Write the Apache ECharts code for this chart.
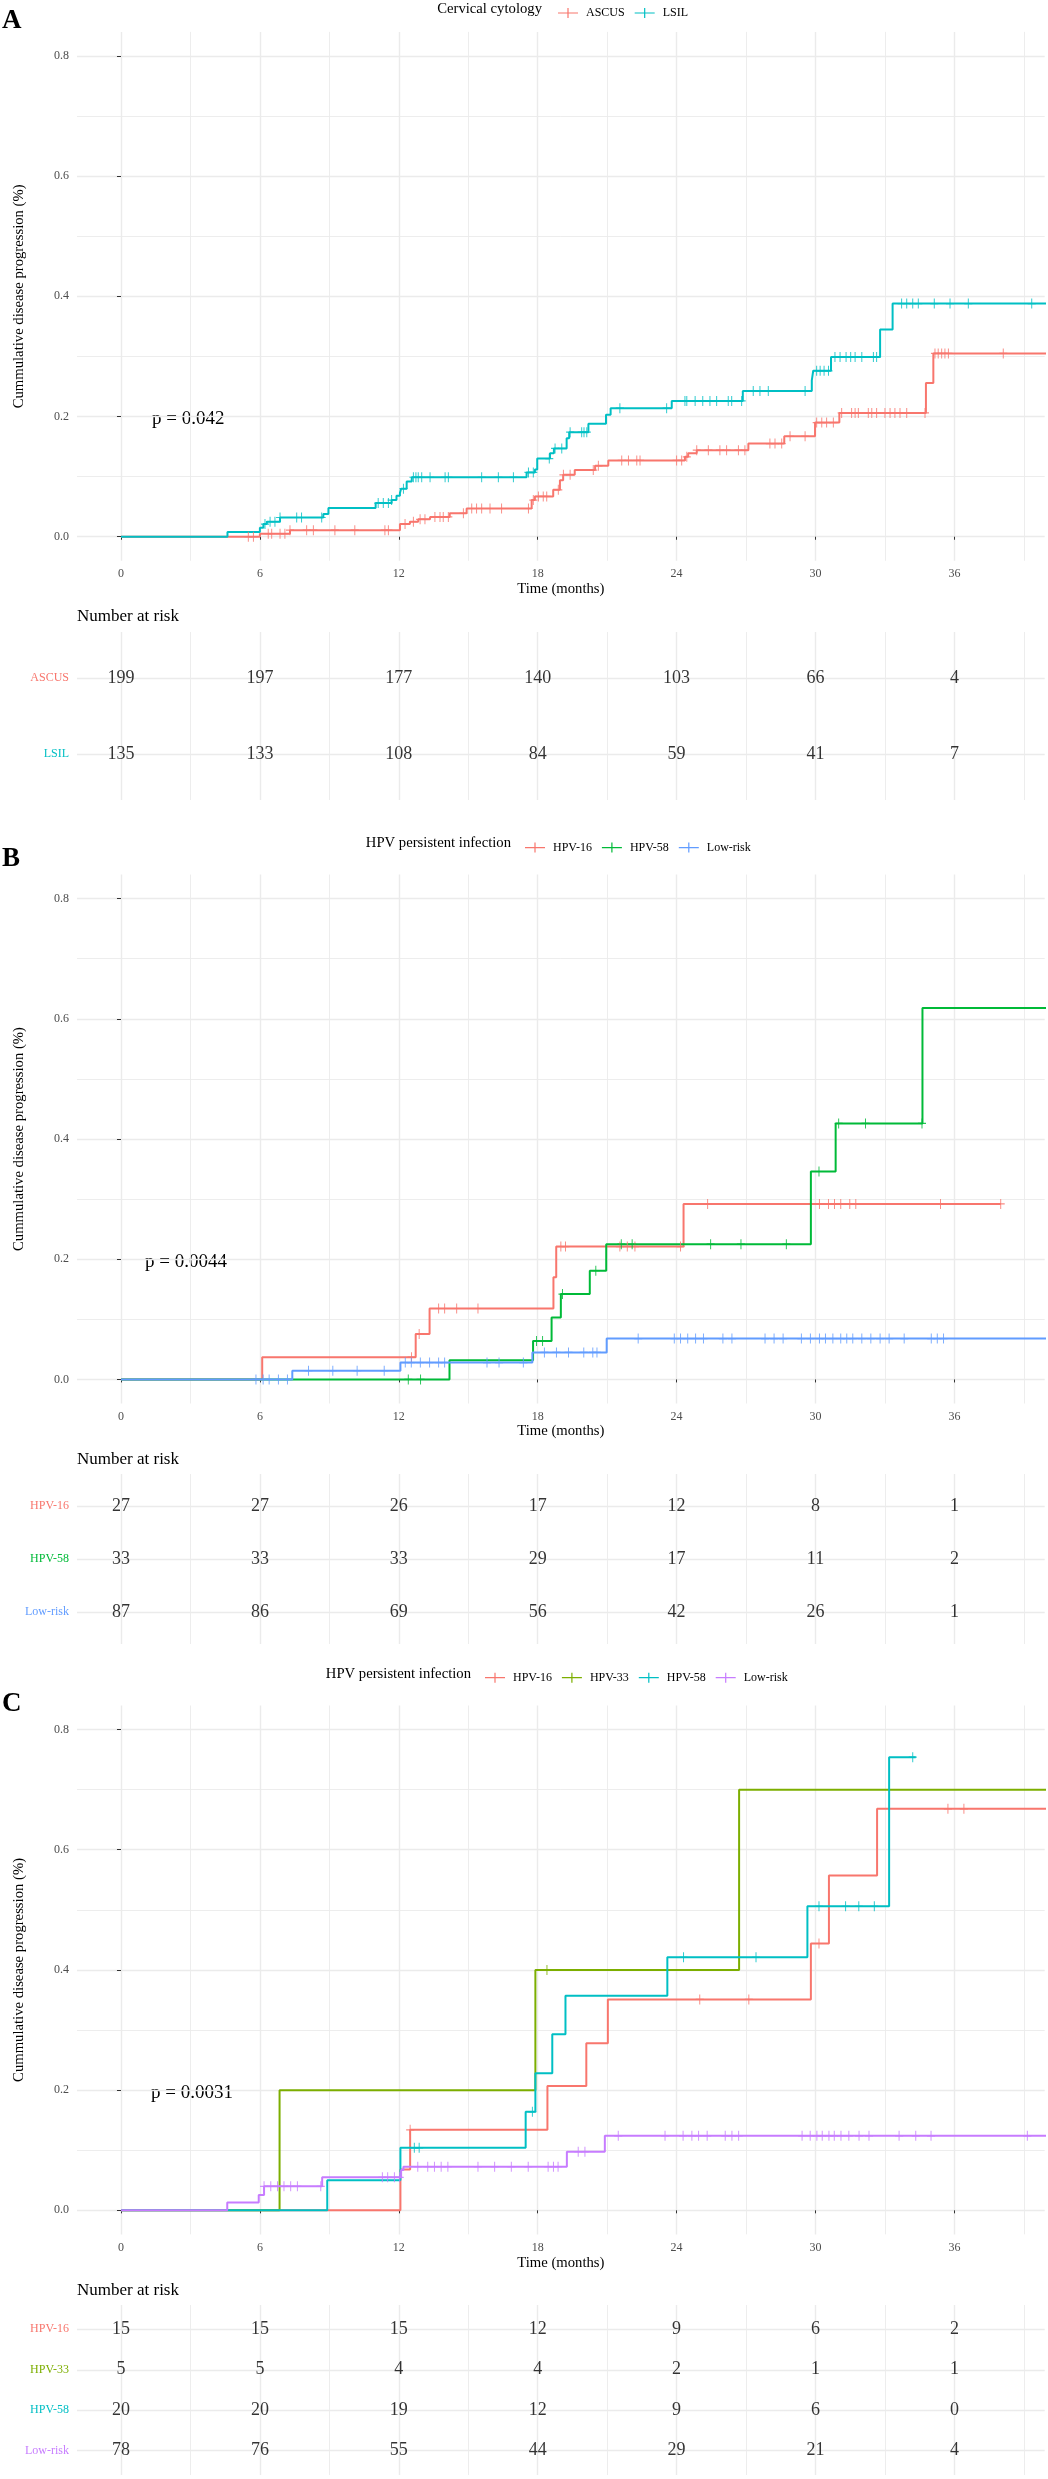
<!DOCTYPE html>
<html><head><meta charset="utf-8">
<script src="https://cdn.jsdelivr.net/npm/echarts@6/dist/echarts.min.js"></script>
<style>html,body{margin:0;padding:0;background:#fff}#c{width:1048px;height:2479px}</style>
</head><body><div id="c"></div><script>
// ---------- shared axis ticks ----------
const timeTicks = [0, 6, 12, 18, 24, 30, 36];
const timeMinorTicks = [3, 9, 15, 21, 27, 33, 39];
const probTicks = [0, 0.2, 0.4, 0.6, 0.8];
const probMinorTicks = [0.1, 0.3, 0.5, 0.7];

// ---------- Panel A : Cervical cytology ----------
const aAscusT = [0, 6.0, 7.3, 12.05, 12.48, 12.84, 13.35, 14.2, 14.93, 17.74, 17.88, 18.67, 18.96, 19.1, 19.6, 20.48, 21.05, 24.36, 24.5, 24.87, 27.1, 28.65, 29.98, 31.03, 34.77, 35.09];
const aAscusV = [0, 0.005, 0.011, 0.021, 0.025, 0.029, 0.033, 0.039, 0.047, 0.061, 0.067, 0.078, 0.094, 0.103, 0.111, 0.118, 0.127, 0.133, 0.139, 0.144, 0.155, 0.167, 0.190, 0.206, 0.256, 0.305];
const aAscusEnd = 40;
const aAscusCens = [5.5, 5.72, 6.36, 6.51, 6.87, 7.08, 7.3, 8.02, 8.31, 9.24, 10.1, 11.4, 11.55, 12.27, 12.63, 12.92, 13.13, 13.56, 13.78, 13.92, 14.14, 14.79, 15.15, 15.36, 15.58, 15.94, 16.44, 17.6, 17.81, 18.03, 18.24, 18.39, 18.89, 19.11, 19.4, 20.4, 20.62, 21.63, 21.92, 22.28, 22.42, 24.0, 24.22, 24.44, 24.87, 25.37, 25.87, 26.16, 26.67, 26.95, 28.03, 28.25, 28.54, 28.9, 29.55, 30.05, 30.27, 30.48, 30.77, 31.13, 31.56, 31.71, 31.85, 32.28, 32.43, 32.64, 33.0, 33.22, 33.43, 33.65, 33.94, 34.73, 35.16, 35.3, 35.45, 35.59, 35.74, 38.11];
const aLsilT = [0, 4.6, 6.0, 6.15, 6.3, 6.87, 8.74, 8.96, 11.0, 11.69, 11.9, 12.05, 12.1, 12.34, 12.56, 17.52, 17.88, 17.98, 18.53, 18.7, 19.25, 19.36, 20.19, 20.95, 21.15, 23.79, 26.86, 29.84, 29.9, 30.67, 32.79, 33.33];
const aLsilV = [0, 0.008, 0.015, 0.021, 0.025, 0.032, 0.038, 0.048, 0.056, 0.061, 0.068, 0.073, 0.080, 0.092, 0.099, 0.107, 0.112, 0.130, 0.139, 0.147, 0.164, 0.174, 0.188, 0.203, 0.214, 0.226, 0.2425, 0.260, 0.276, 0.299, 0.345, 0.388];
const aLsilEnd = 40;
const aLsilCens = [6.22, 6.44, 6.65, 6.87, 7.59, 7.8, 8.67, 11.11, 11.33, 11.55, 11.69, 12.2, 12.63, 12.74, 12.84, 12.99, 13.35, 14.0, 14.14, 15.58, 16.3, 16.95, 17.6, 17.81, 18.5, 18.75, 19.04, 19.4, 19.9, 20.0, 20.12, 21.55, 23.57, 24.36, 24.44, 24.8, 25.13, 25.44, 25.73, 26.23, 26.38, 26.81, 27.31, 27.6, 27.96, 29.55, 30.05, 30.2, 30.37, 30.56, 30.84, 31.06, 31.32, 31.52, 31.71, 32.0, 32.5, 32.64, 33.72, 33.94, 34.2, 34.44, 35.13, 35.81, 36.6, 39.34];
const aAscusRisk = [199, 197, 177, 140, 103, 66, 4];
const aLsilRisk = [135, 133, 108, 84, 59, 41, 7];

// ---------- Panel B : HPV persistent infection ----------
const b16T = [0, 6.1, 12.73, 13.33, 18.68, 18.8, 24.3];
const b16V = [0, 0.037, 0.0755, 0.118, 0.17, 0.221, 0.292];
const b16End = 38.0;
const b16Cens = [12.55, 12.88, 13.72, 13.98, 14.5, 15.42, 19.0, 19.2, 21.55, 21.87, 22.2, 24.17, 25.34, 30.17, 30.56, 30.82, 31.09, 31.48, 31.74, 35.4, 38.0];
const b58T = [0, 14.19, 17.8, 18.6, 19.0, 20.25, 20.96, 29.8, 30.87, 34.62];
const b58V = [0, 0.032, 0.064, 0.103, 0.142, 0.181, 0.225, 0.346, 0.426, 0.618];
const b58End = 40;
const b58Cens = [12.41, 12.94, 17.95, 18.21, 19.07, 20.51, 21.61, 22.08, 25.47, 26.78, 28.74, 30.15, 31.0, 32.16, 34.6];
const bLowT = [0, 7.4, 12.07, 17.77, 20.98];
const bLowV = [0, 0.0145, 0.028, 0.045, 0.068];
const bLowEnd = 40;
const bLowCens = [5.83, 6.14, 6.4, 6.8, 7.19, 8.1, 9.15, 10.2, 11.37, 12.28, 12.54, 12.93, 13.33, 13.72, 13.98, 15.81, 16.33, 17.38, 18.29, 18.81, 19.33, 19.99, 20.38, 20.56, 22.34, 23.9, 24.17, 24.48, 24.82, 25.16, 26.0, 26.39, 27.82, 28.21, 28.6, 29.39, 29.78, 30.17, 30.43, 30.75, 31.09, 31.35, 31.61, 32.0, 32.39, 32.79, 33.18, 33.83, 35.0, 35.26, 35.53];
const b16Risk = [27, 27, 26, 17, 12, 8, 1];
const b58Risk = [33, 33, 33, 29, 17, 11, 2];
const bLowRisk = [87, 86, 69, 56, 42, 26, 1];

// ---------- Panel C : HPV persistent infection ----------
const c16T = [0, 12.07, 12.49, 18.42, 20.1, 21.03, 29.8, 30.58, 32.66];
const c16V = [0, 0.068, 0.134, 0.207, 0.278, 0.351, 0.444, 0.557, 0.668];
const c16End = 40;
const c16Cens = [12.49, 25.0, 27.12, 30.15, 35.72, 36.41];
const c33T = [0, 6.85, 17.9, 26.7];
const c33V = [0, 0.2, 0.4, 0.7];
const c33End = 40;
const c33Cens = [18.4];
const c58T = [0, 8.91, 12.07, 17.48, 17.9, 18.63, 19.2, 23.6, 29.65, 33.18];
const c58V = [0, 0.05, 0.104, 0.164, 0.228, 0.293, 0.357, 0.421, 0.506, 0.754];
const c58End = 34.33;
const c58Cens = [12.67, 12.88, 17.77, 24.3, 27.43, 30.15, 31.3, 31.87, 32.54, 34.2];
const cLowT = [0, 4.59, 5.95, 6.18, 8.69, 12.1, 12.2, 19.26, 20.9];
const cLowV = [0, 0.013, 0.0255, 0.040, 0.055, 0.067, 0.0725, 0.0975, 0.124];
const cLowEnd = 40;
const cLowCens = [6.18, 6.47, 6.76, 7.04, 7.33, 7.62, 8.63, 11.29, 11.52, 11.81, 12.04, 12.82, 13.25, 13.54, 13.83, 14.12, 15.42, 16.14, 16.86, 17.59, 18.45, 18.68, 18.88, 19.75, 20.04, 21.48, 23.5, 24.28, 24.66, 24.95, 25.32, 26.1, 26.39, 26.68, 29.42, 29.77, 30.06, 30.29, 30.58, 30.81, 31.1, 31.44, 31.88, 32.31, 33.61, 34.33, 34.99, 39.15];
const c16Risk = [15, 15, 15, 12, 9, 6, 2];
const c33Risk = [5, 5, 4, 4, 2, 1, 1];
const c58Risk = [20, 20, 19, 12, 9, 6, 0];
const cLowRisk = [78, 76, 55, 44, 29, 21, 4];

// ---------- styling / layout ----------
const FONT = "'Liberation Serif', 'Times New Roman', serif";
const GRID = '#EBEBEB';
const X_MIN = -1.9, X_MAX = 39.9, Y_MIN = -0.04, Y_MAX = 0.84;
const PLOT_LEFT = 77, PLOT_W = 967.7;
const plusPath = 'path://M4.4,0h1.2v4.4h4.4v1.2h-4.4v4.4h-1.2v-4.4h-4.4v-1.2h4.4z';
const legendPath = 'path://M0,4.4h9.4v-4.4h1.2v4.4h9.4v1.2h-9.4v4.4h-1.2v-4.4h-9.4z';

const panels = [
  { key: 'A', letter: 'A', legendTitle: 'Cervical cytology', pval: 'p = 0.042',
    groups: [
      { label: 'ASCUS', color: '#F8766D', t: aAscusT, v: aAscusV, end: aAscusEnd, cens: aAscusCens, risk: aAscusRisk },
      { label: 'LSIL', color: '#00BFC4', t: aLsilT, v: aLsilV, end: aLsilEnd, cens: aLsilCens, risk: aLsilRisk }
    ],
    lay: { curveTop: 31.9, tableTop: 632, tableH: 168, legendY: 9, letterY: 23, titleRight: 542, legendLeft: 553, pX: 152, pY: 419, timeY: 589, nRiskY: 617 } },
  { key: 'B', letter: 'B', legendTitle: 'HPV persistent infection', pval: 'p = 0.0044',
    groups: [
      { label: 'HPV-16', color: '#F8766D', t: b16T, v: b16V, end: b16End, cens: b16Cens, risk: b16Risk },
      { label: 'HPV-58', color: '#00BA38', t: b58T, v: b58V, end: b58End, cens: b58Cens, risk: b58Risk },
      { label: 'Low-risk', color: '#619CFF', t: bLowT, v: bLowV, end: bLowEnd, cens: bLowCens, risk: bLowRisk }
    ],
    lay: { curveTop: 874.6, tableTop: 1474, tableH: 170, legendY: 843.6, letterY: 861, titleRight: 511, legendLeft: 520, pX: 145, pY: 1261.7, timeY: 1431, nRiskY: 1460 } },
  { key: 'C', letter: 'C', legendTitle: 'HPV persistent infection', pval: 'p = 0.0031',
    groups: [
      { label: 'HPV-16', color: '#F8766D', t: c16T, v: c16V, end: c16End, cens: c16Cens, risk: c16Risk },
      { label: 'HPV-33', color: '#7CAE00', t: c33T, v: c33V, end: c33End, cens: c33Cens, risk: c33Risk },
      { label: 'HPV-58', color: '#00BFC4', t: c58T, v: c58V, end: c58End, cens: c58Cens, risk: c58Risk },
      { label: 'Low-risk', color: '#C77CFF', t: cLowT, v: cLowV, end: cLowEnd, cens: cLowCens, risk: cLowRisk }
    ],
    lay: { curveTop: 1705.5, tableTop: 2305, tableH: 170, legendY: 1673.7, letterY: 1706, titleRight: 471, legendLeft: 480, pX: 151, pY: 2093.3, timeY: 2263, nRiskY: 2291 } }
];
const CURVE_H = (Y_MAX - Y_MIN) * 601;

function stepData(ts, vs, end) {
  const d = ts.map((t, i) => [t, vs[i]]);
  d.push([end, vs[vs.length - 1]]);
  return d;
}
function levelAt(ts, vs, t) {
  let v = 0;
  for (let i = 0; i < ts.length; i++) if (ts[i] <= t) v = vs[i];
  return v;
}

const grids = [], xAxes = [], yAxes = [], series = [], legends = [], graphics = [];

function hiddenAxisParts() {
  return { axisLine: { show: false }, axisLabel: { show: false } };
}

panels.forEach((p, i) => {
  const L = p.lay;
  const gCurve = grids.length;
  grids.push({ left: PLOT_LEFT, width: PLOT_W, top: L.curveTop, height: CURVE_H });
  const gTable = grids.length;
  grids.push({ left: PLOT_LEFT, width: PLOT_W, top: L.tableTop, height: L.tableH });

  // curve x axes
  const xCurve = xAxes.length;
  xAxes.push({ type: 'value', gridIndex: gCurve, min: X_MIN, max: X_MAX, position: 'bottom',
    axisLine: { show: false },
    axisTick: { show: true, length: 3, lineStyle: { color: '#333', width: 1 }, customValues: timeTicks },
    axisLabel: { customValues: timeTicks, margin: 7, fontFamily: FONT, fontSize: 12, color: '#4D4D4D' },
    splitLine: { show: true, lineStyle: { color: GRID, width: 1.4 } } });
  xAxes.push(Object.assign({ type: 'value', gridIndex: gCurve, min: X_MIN, max: X_MAX, position: 'top',
    axisTick: { show: false, customValues: timeMinorTicks },
    splitLine: { show: true, lineStyle: { color: GRID, width: 0.9 } } }, hiddenAxisParts()));
  // table x axes
  xAxes.push(Object.assign({ type: 'value', gridIndex: gTable, min: X_MIN, max: X_MAX, position: 'bottom',
    axisTick: { show: false, customValues: timeTicks },
    splitLine: { show: true, lineStyle: { color: GRID, width: 1.4 } } }, hiddenAxisParts()));
  xAxes.push(Object.assign({ type: 'value', gridIndex: gTable, min: X_MIN, max: X_MAX, position: 'top',
    axisTick: { show: false, customValues: timeMinorTicks },
    splitLine: { show: true, lineStyle: { color: GRID, width: 0.9 } } }, hiddenAxisParts()));
  const xTable = xCurve + 2;

  // curve y axes
  const yCurve = yAxes.length;
  yAxes.push({ type: 'value', gridIndex: gCurve, min: Y_MIN, max: Y_MAX, position: 'left',
    axisLine: { show: false },
    axisTick: { show: true, length: 4, lineStyle: { color: '#333', width: 1 }, customValues: probTicks },
    axisLabel: { customValues: probTicks, margin: 8, formatter: v => v.toFixed(1), fontFamily: FONT, fontSize: 12, color: '#4D4D4D' },
    splitLine: { show: true, lineStyle: { color: GRID, width: 1.4 } } });
  yAxes.push(Object.assign({ type: 'value', gridIndex: gCurve, min: Y_MIN, max: Y_MAX, position: 'right',
    axisTick: { show: false, customValues: probMinorTicks },
    splitLine: { show: true, lineStyle: { color: GRID, width: 0.9 } } }, hiddenAxisParts()));
  // table y axis (rows)
  const rows = p.groups.map((g, k) => k + 1);
  const rich = {};
  p.groups.forEach((g, k) => { rich['r' + k] = { color: g.color, fontFamily: FONT, fontSize: 12 }; });
  const yTable = yAxes.length;
  yAxes.push({ type: 'value', gridIndex: gTable, min: 0.4, max: p.groups.length + 0.6, inverse: true, position: 'left',
    axisLine: { show: false },
    axisTick: { show: false, customValues: rows },
    axisLabel: { customValues: rows, margin: 8, formatter: v => { const k = Math.round(v) - 1; return '{r' + k + '|' + p.groups[k].label + '}'; }, rich: rich },
    splitLine: { show: true, lineStyle: { color: GRID, width: 1.4 } } });

  // series
  const legendNames = [];
  p.groups.forEach((g, k) => {
    const name = p.key + ':' + g.label;
    legendNames.push(name);
    series.push({ type: 'line', name: name, xAxisIndex: xCurve, yAxisIndex: yCurve,
      data: stepData(g.t, g.v, g.end), step: 'end', symbol: 'none', showSymbol: false,
      color: g.color, lineStyle: { color: g.color, width: 2 }, clip: true, silent: true, z: 3 });
    series.push({ type: 'scatter', name: name + ' censored', xAxisIndex: xCurve, yAxisIndex: yCurve,
      data: g.cens.map(t => [t, levelAt(g.t, g.v, t)]), symbol: plusPath, symbolSize: [8, 10],
      itemStyle: { color: g.color, opacity: 0.85 }, silent: true, z: 4 });
    series.push({ type: 'scatter', name: name + ' risk', xAxisIndex: xTable, yAxisIndex: yTable,
      data: timeTicks.map((t, j) => [t, k + 1, g.risk[j]]), symbolSize: 1,
      itemStyle: { color: 'rgba(0,0,0,0)' }, silent: true,
      label: { show: true, position: 'inside', formatter: q => String(q.value[2]), fontFamily: FONT, fontSize: 18, color: '#000' } });
  });

  legends.push({ data: legendNames, left: L.legendLeft, top: L.legendY - 7, orient: 'horizontal',
    icon: legendPath, itemWidth: 20, itemHeight: 10, itemGap: 10, selectedMode: false,
    formatter: n => '{t|' + n.split(':')[1] + '}',
    textStyle: { fontFamily: FONT, fontSize: 12, color: '#000', rich: { t: { fontFamily: FONT, fontSize: 12, color: '#000', padding: [0, 0, 0, 3] } } } });

  const curveBottom = L.curveTop + CURVE_H;
  graphics.push(
    { type: 'text', left: 2, top: L.letterY - 15, style: { text: p.letter, font: 'bold 27px ' + FONT, fill: '#000' } },
    { type: 'text', x: L.titleRight, y: L.legendY, style: { text: p.legendTitle, font: '14.7px ' + FONT, fill: '#000', textAlign: 'right', textVerticalAlign: 'middle' } },
    { type: 'text', x: 19, y: (L.curveTop + curveBottom) / 2, rotation: Math.PI / 2, style: { text: 'Cummulative disease progression (%)', font: '14.7px ' + FONT, fill: '#000', textAlign: 'center', textVerticalAlign: 'middle' } },
    { type: 'text', x: PLOT_LEFT + PLOT_W / 2, y: L.timeY, style: { text: 'Time (months)', font: '14.7px ' + FONT, fill: '#000', textAlign: 'center', textVerticalAlign: 'middle' } },
    { type: 'text', x: 77, y: L.nRiskY, style: { text: 'Number at risk', font: '17px ' + FONT, fill: '#000', textAlign: 'left', textVerticalAlign: 'middle' } },
    { type: 'text', x: L.pX, y: L.pY, style: { text: p.pval, font: '19px ' + FONT, fill: '#000', textAlign: 'left', textVerticalAlign: 'middle' } }
  );
});

const chart = echarts.init(document.getElementById('c'), null, { renderer: 'canvas' });
chart.setOption({
  animation: false,
  backgroundColor: '#fff',
  grid: grids, xAxis: xAxes, yAxis: yAxes, series: series, legend: legends, graphic: graphics
});
</script></body></html>
